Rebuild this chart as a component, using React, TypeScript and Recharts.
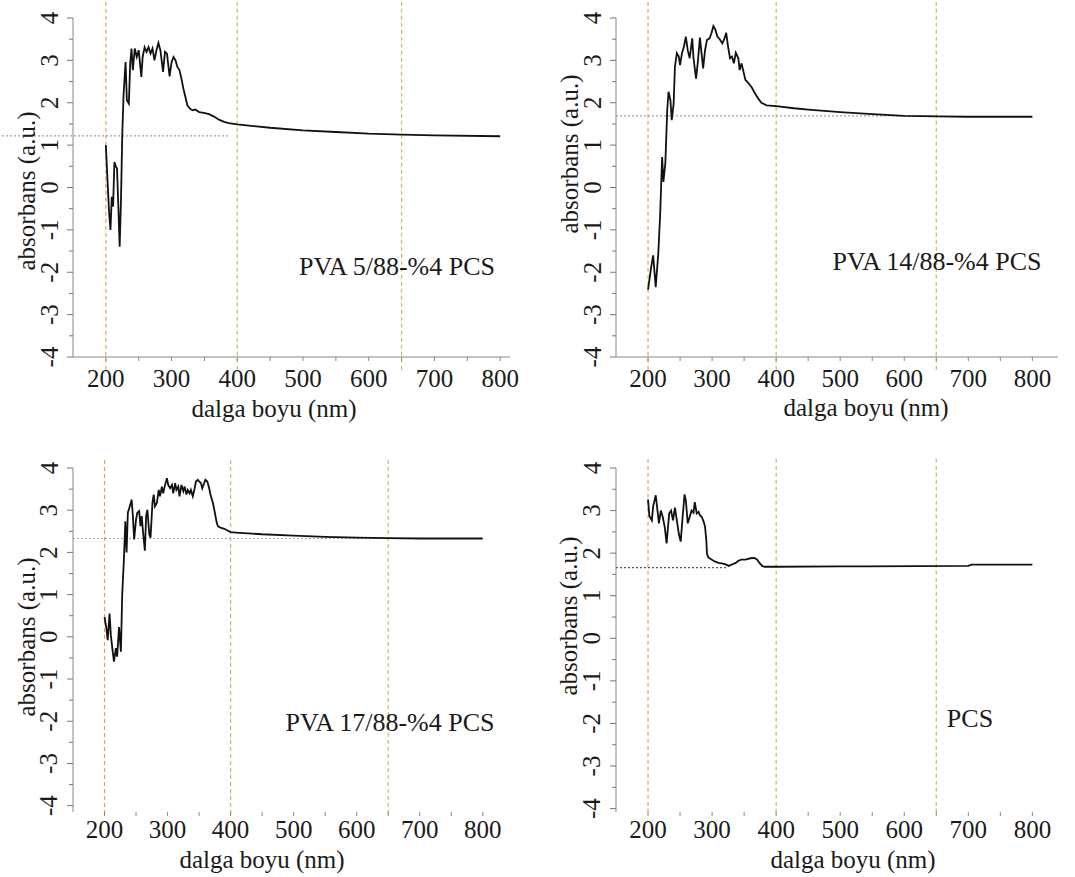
import React from 'react';
import { LineChart, Line, XAxis, YAxis, ReferenceLine } from 'recharts';

const FONT = '"Liberation Serif", "Times New Roman", serif';

// eksen tikleri
const xTicks = [200, 250, 300, 350, 400, 450, 500, 550, 600, 650, 700, 750, 800];
const yTicks = [-4, -3.5, -3, -2.5, -2, -1.5, -1, -0.5, 0, 0.5, 1, 1.5, 2, 2.5, 3, 3.5, 4];
const markerNm = [200, 400, 650];

// PVA 5/88-%4 PCS
const pva5Nm = [200, 203, 205, 207, 209, 211, 213, 215, 217, 219, 221, 223, 225, 227, 230, 232, 235, 237, 239, 241, 244, 247, 250, 254, 256, 259, 262, 265, 268, 271, 274, 277, 280, 283, 287, 290, 293, 297, 300, 303, 306, 309, 312, 315, 318, 321, 324, 328, 332, 336, 342, 349, 357, 364, 372, 380, 387, 400, 450, 500, 550, 600, 650, 700, 800];
const pva5Abs = [1.0, 0.0, -0.6, -1.0, -0.22, -0.45, 0.6, 0.5, 0.45, -0.45, -1.4, -0.3, 1.27, 2.2, 2.96, 2.06, 1.98, 2.92, 3.28, 2.77, 3.28, 3.08, 3.24, 2.61, 3.08, 3.31, 3.2, 3.31, 3.16, 3.28, 3.0, 3.24, 3.41, 3.24, 2.73, 3.2, 3.16, 2.62, 2.96, 3.08, 3.0, 2.84, 2.77, 2.57, 2.33, 2.14, 1.94, 1.86, 1.82, 1.84, 1.78, 1.76, 1.73, 1.68, 1.6, 1.55, 1.52, 1.49, 1.41, 1.35, 1.31, 1.27, 1.25, 1.23, 1.21];

// PVA 14/88-%4 PCS
const pva14Nm = [200, 205, 208, 212, 216, 219, 222, 224, 227, 230, 232, 235, 237, 240, 242, 245, 248, 250, 253, 256, 259, 262, 265, 269, 271, 275, 278, 281, 286, 289, 292, 296, 299, 302, 305, 308, 312, 316, 319, 322, 325, 328, 331, 334, 337, 341, 343, 346, 349, 352, 357, 362, 367, 373, 377, 385, 400, 428, 450, 500, 550, 600, 650, 700, 800];
const pva14Abs = [-2.41, -1.87, -1.6, -2.35, -1.56, -0.61, 0.72, 0.13, 0.57, 1.83, 2.26, 2.06, 1.59, 1.98, 2.85, 3.17, 3.09, 2.89, 3.17, 3.32, 3.56, 3.24, 3.05, 3.52, 3.05, 2.57, 3.0, 3.54, 2.81, 3.24, 3.48, 3.52, 3.64, 3.81, 3.73, 3.57, 3.5, 3.4, 3.5, 3.65, 3.32, 3.05, 3.09, 2.93, 3.18, 3.05, 2.77, 2.93, 2.73, 2.54, 2.46, 2.36, 2.22, 2.08, 2.0, 1.94, 1.92, 1.87, 1.84, 1.78, 1.73, 1.69, 1.68, 1.67, 1.67];

// PVA 17/88-%4 PCS
const pva17Nm = [200, 203, 205, 208, 210, 213, 215, 218, 220, 223, 226, 228, 231, 233, 235, 237, 240, 243, 245, 247, 250, 252, 255, 257, 259, 261, 264, 266, 268, 271, 273, 276, 278, 280, 283, 286, 288, 291, 293, 296, 299, 301, 304, 307, 309, 312, 314, 317, 319, 322, 325, 327, 330, 332, 335, 337, 340, 343, 345, 348, 350, 353, 355, 358, 360, 363, 366, 368, 372, 375, 378, 380, 385, 390, 395, 400, 408, 450, 500, 550, 600, 650, 700, 800];
const pva17Abs = [0.47, 0.2, -0.08, 0.55, 0.04, -0.35, -0.59, -0.27, -0.47, 0.23, -0.35, 0.98, 1.92, 2.74, 2.0, 2.94, 3.09, 3.25, 2.86, 2.31, 2.78, 2.94, 2.98, 2.62, 2.86, 2.5, 2.04, 2.86, 3.01, 2.43, 2.35, 3.17, 3.37, 3.09, 3.17, 3.48, 3.33, 3.56, 3.4, 3.6, 3.76, 3.6, 3.52, 3.6, 3.4, 3.64, 3.48, 3.56, 3.33, 3.6, 3.45, 3.56, 3.37, 3.48, 3.4, 3.48, 3.33, 3.52, 3.68, 3.72, 3.68, 3.64, 3.52, 3.64, 3.72, 3.68, 3.52, 3.37, 3.17, 2.94, 2.7, 2.62, 2.58, 2.56, 2.52, 2.48, 2.47, 2.43, 2.4, 2.37, 2.35, 2.34, 2.33, 2.33];

// PCS
const pcsNm = [200, 202, 206, 208, 212, 215, 217, 220, 223, 226, 229, 233, 236, 239, 242, 245, 248, 251, 254, 257, 259, 262, 265, 268, 271, 273, 276, 279, 281, 284, 287, 289, 291, 292, 294, 299, 305, 310, 315, 320, 326, 332, 337, 341, 346, 352, 360, 366, 370, 374, 378, 382, 400, 500, 540, 700, 705, 800];
const pcsAbs = [3.26, 2.88, 2.77, 3.1, 3.36, 2.97, 2.7, 3.0, 2.85, 2.62, 2.23, 2.93, 3.0, 2.77, 3.07, 2.77, 2.46, 2.27, 2.85, 3.38, 3.24, 2.7, 2.85, 3.0, 2.95, 3.2, 2.93, 2.97, 2.89, 2.85, 2.73, 2.62, 2.3, 1.99, 1.9, 1.85, 1.8, 1.77, 1.76, 1.74, 1.7, 1.74, 1.77, 1.82, 1.85, 1.85, 1.88, 1.89, 1.85, 1.77, 1.7, 1.68, 1.68, 1.69, 1.69, 1.7, 1.73, 1.73];

const panels = [
  {
    nm: pva5Nm, abs: pva5Abs, label: 'PVA 5/88-%4 PCS',
    left: 0, top: 0, width: 540, height: 420,
    margin: { top: 18, right: 30, bottom: 23, left: 33 },
    xMax: 815, yMin: -4, axisLine: true, tickGap: 21,
    markTop: 4.42, markBottom: -4.3,
    base: 1.22, baseFrom: 42, baseTo: 388, baseColor: '#a99c98',
    yTitle: [26, 191], xTitle: [274, 408], note: [397, 267],
  },
  {
    nm: pva14Nm, abs: pva14Abs, label: 'PVA 14/88-%4 PCS',
    left: 540, top: 0, width: 535, height: 420,
    margin: { top: 18, right: 17, bottom: 23, left: 36 },
    xMax: 840, yMin: -4, axisLine: true, tickGap: 21,
    markTop: 4.42, markBottom: -4.3,
    base: 1.69, baseFrom: 150, baseTo: 650, baseColor: '#a0a4ae',
    yTitle: [569, 154], xTitle: [866, 407], note: [937, 262],
  },
  {
    nm: pva17Nm, abs: pva17Abs, label: 'PVA 17/88-%4 PCS',
    left: 0, top: 420, width: 540, height: 457,
    margin: { top: 48, right: 32, bottom: 25, left: 33 },
    xMax: 840, yMin: -4.15, axisLine: false, tickGap: 17,
    markTop: 4.2, markBottom: -4.2,
    base: 2.33, baseFrom: 150, baseTo: 650, baseColor: '#a0a4ae',
    yTitle: [26, 637], xTitle: [262, 859], note: [390, 723],
  },
  {
    nm: pcsNm, abs: pcsAbs, label: 'PCS',
    left: 540, top: 420, width: 535, height: 457,
    margin: { top: 48, right: 17, bottom: 25, left: 36 },
    xMax: 840, yMin: -4.08, axisLine: false, tickGap: 17,
    markTop: 4.24, markBottom: -4.1,
    base: 1.66, baseFrom: 150, baseTo: 325, baseColor: '#555555',
    yTitle: [568, 616], xTitle: [853, 859], note: [970, 719],
  },
];

const tickText: React.CSSProperties = { fontFamily: FONT, fontSize: 25, fill: '#1a1a1a' };

const YTick = (props: any) => {
  const { x, y, payload } = props;
  const v = payload.value;
  const major = Number.isInteger(v);
  const tx = x - 24;
  return (
    <g>
      <line x1={x - (major ? 6 : 4)} x2={x} y1={y} y2={y} stroke="#777" />
      {major && (
        <text x={tx} y={y} transform={`rotate(-90 ${tx} ${y})`} textAnchor="middle"
          dominantBaseline="central" style={tickText}>
          {v}
        </text>
      )}
    </g>
  );
};

const makeXTick = (gap: number) => (props: any) => {
  const { x, y, payload } = props;
  const v = payload.value;
  const major = v % 100 === 0;
  return (
    <g>
      <line x1={x} x2={x} y1={y} y2={y + 4} stroke="#888" />
      {major && (
        <text x={x} y={y + gap} textAnchor="middle" dominantBaseline="central" style={tickText}>
          {v}
        </text>
      )}
    </g>
  );
};

const textStyle: React.CSSProperties = {
  position: 'absolute', whiteSpace: 'nowrap', fontFamily: FONT, fontSize: 25, color: '#1a1a1a', lineHeight: 1,
};

const Panel = ({ p }: { p: any }) => {
  const data = p.nm.map((n: number, i: number) => ({ nm: n, a: p.abs[i] }));
  return (
    <div style={{ position: 'absolute', left: p.left, top: p.top }}>
      <LineChart width={p.width} height={p.height} data={data} margin={p.margin}>
        <XAxis dataKey="nm" type="number" domain={[150, p.xMax]} ticks={xTicks} interval={0}
          tickSize={0} tickMargin={0} tickLine={false} tick={makeXTick(p.tickGap)} height={40}
          allowDataOverflow axisLine={p.axisLine ? { stroke: '#888' } : false} />
        <YAxis type="number" domain={[p.yMin, 4]} ticks={yTicks} interval={0} tickSize={0}
          tickMargin={0} tickLine={false} tick={YTick} width={40} allowDataOverflow
          axisLine={{ stroke: '#888' }} />
        {markerNm.map((m, i) => (
          <ReferenceLine key={m} ifOverflow="visible"
            segment={[{ x: m, y: p.markBottom }, { x: m, y: p.markTop }]}
            stroke={i === 0 ? '#e0a35c' : '#cdb56c'} strokeWidth={1.2} strokeDasharray="4 3" />
        ))}
        <ReferenceLine ifOverflow="visible"
          segment={[{ x: p.baseFrom, y: p.base }, { x: p.baseTo, y: p.base }]}
          stroke={p.baseColor} strokeWidth={1.2} strokeDasharray="2 2" />
        <Line dataKey="a" type="linear" stroke="#111" strokeWidth={1.8} dot={false}
          isAnimationActive={false} />
      </LineChart>
    </div>
  );
};

const App = () => {
  return (
    <div style={{ position: 'absolute', left: 0, top: 0, width: 1075, height: 877, background: '#fff', overflow: 'hidden' }}>
      {panels.map((p) => (
        <Panel key={p.label} p={p} />
      ))}
      {panels.map((p) => (
        <React.Fragment key={'t' + p.label}>
          <div style={{ ...textStyle, left: p.yTitle[0], top: p.yTitle[1], transform: 'translate(-50%, -50%) rotate(-90deg)' }}>
            absorbans (a.u.)
          </div>
          <div style={{ ...textStyle, left: p.xTitle[0], top: p.xTitle[1], transform: 'translate(-50%, -50%)' }}>
            dalga boyu (nm)
          </div>
          <div style={{ ...textStyle, fontSize: 26, left: p.note[0], top: p.note[1], transform: 'translate(-50%, -50%)' }}>
            {p.label}
          </div>
        </React.Fragment>
      ))}
    </div>
  );
};

export default App;
